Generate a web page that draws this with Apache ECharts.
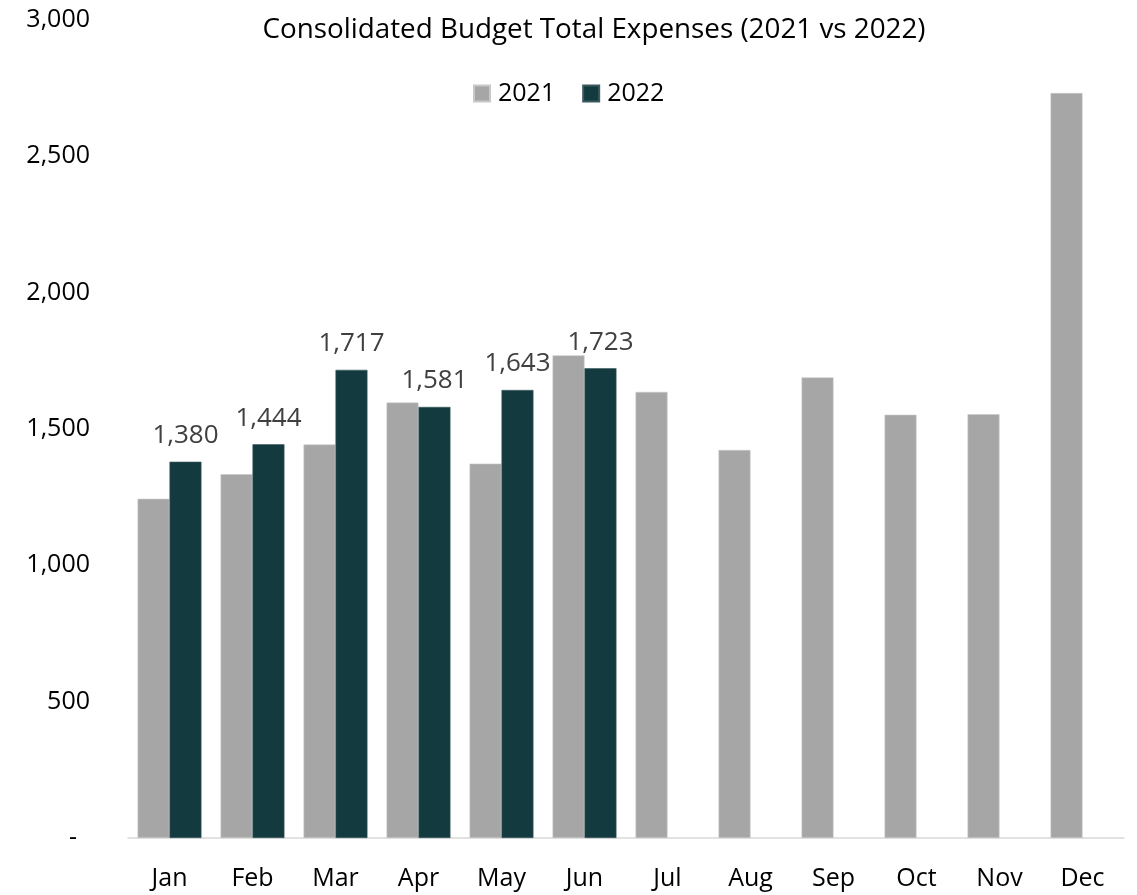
<!DOCTYPE html>
<html>
<head>
<meta charset="utf-8">
<title>Consolidated Budget Total Expenses</title>
<script src="https://cdn.jsdelivr.net/npm/echarts@6/dist/echarts.min.js"></script>
<style>
  html, body { margin: 0; padding: 0; background: #ffffff; }
  #chart { width: 1137px; height: 895px; }
</style>
</head>
<body>
<div id="chart"></div>
<script>
// Monthly consolidated budget total expenses
const months = ['Jan', 'Feb', 'Mar', 'Apr', 'May', 'Jun', 'Jul', 'Aug', 'Sep', 'Oct', 'Nov', 'Dec'];
const expenses2021 = [1244, 1334, 1443, 1597, 1373, 1770, 1636, 1423, 1689, 1552, 1554, 2732];
const expenses2022 = [1380, 1444, 1717, 1581, 1643, 1723, null, null, null, null, null, null];
const yTicks = [0, 500, 1000, 1500, 2000, 2500, 3000];

const FONT = '"Open Sans", "Noto Sans", sans-serif';
const fmt = v => (v === 0 ? '-  ' : v.toLocaleString('en-US'));

const chart = echarts.init(document.getElementById('chart'), null, { renderer: 'canvas' });

chart.setOption({
  animation: false,
  backgroundColor: '#ffffff',
  title: {
    text: 'Consolidated Budget Total Expenses (2021 vs 2022)',
    left: 589,
    top: 11,
    textAlign: 'center',
    textStyle: { fontFamily: FONT, fontSize: 27.8, fontWeight: 'normal', color: '#000000' }
  },
  legend: {
    data: ['2021', '2022'],
    left: 468,
    top: 76,
    orient: 'horizontal',
    itemWidth: 16,
    itemHeight: 16,
    itemGap: 27,
    icon: 'rect',
    textStyle: { fontFamily: FONT, fontSize: 25, color: '#000000', padding: [0, 0, 0, 3] }
  },
  grid: { left: 128, right: 13, top: 20, bottom: 57, containLabel: false },
  xAxis: {
    type: 'category',
    data: months,
    axisTick: { show: false },
    axisLine: { lineStyle: { color: '#d9d9d9', width: 1.5 } },
    axisLabel: { fontFamily: FONT, fontSize: 25, color: '#000000', margin: 28 }
  },
  yAxis: {
    type: 'value',
    min: yTicks[0],
    max: yTicks[yTicks.length - 1],
    interval: yTicks[1] - yTicks[0],
    splitLine: { show: false },
    axisLine: { show: false },
    axisTick: { show: false },
    axisLabel: { fontFamily: FONT, fontSize: 25, color: '#000000', margin: 38, formatter: fmt }
  },
  series: [
    {
      name: '2021',
      type: 'bar',
      data: expenses2021,
      barGap: '0%',
      barCategoryGap: '23%',
      itemStyle: { color: '#a6a6a6', borderColor: '#c8c8c8', borderWidth: 0.6 }
    },
    {
      name: '2022',
      type: 'bar',
      data: expenses2022,
      barGap: '0%',
      barCategoryGap: '23%',
      itemStyle: { color: '#133a3f', borderColor: '#3b5a5e', borderWidth: 0.6 },
      label: {
        show: true,
        position: 'top',
        distance: 13,
        fontFamily: FONT,
        fontSize: 26,
        color: '#404040',
        formatter: p => fmt(p.value)
      }
    }
  ]
});
</script>
</body>
</html>
